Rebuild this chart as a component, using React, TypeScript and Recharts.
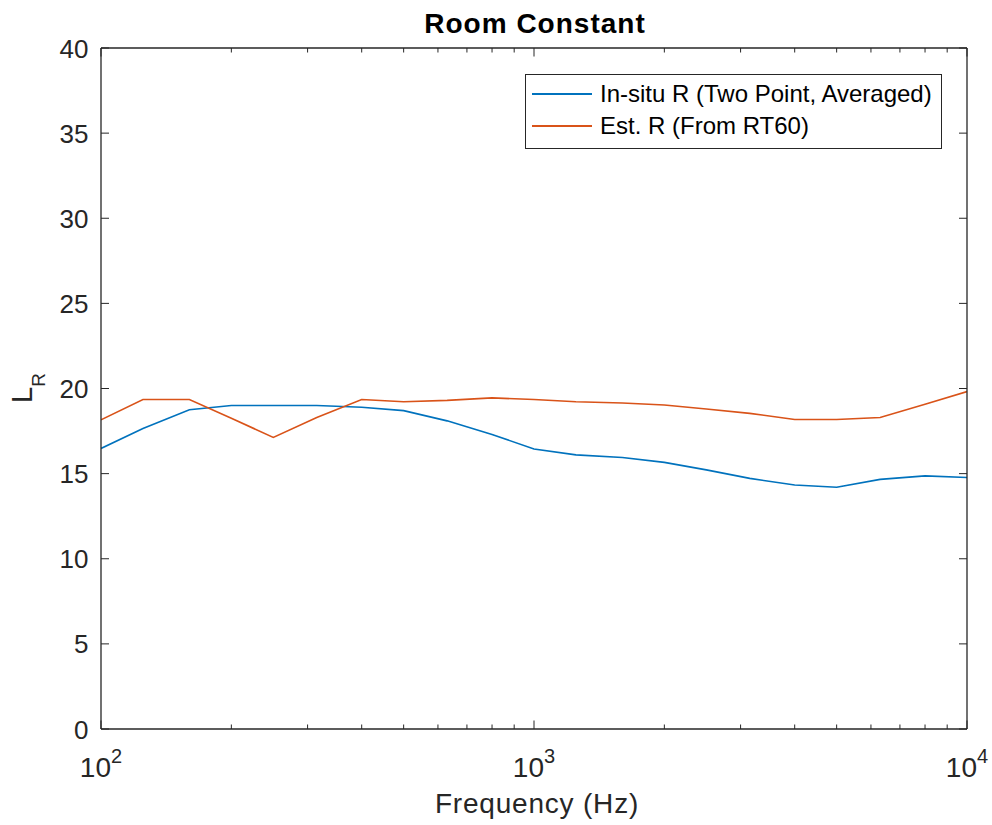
import React from 'react';
import { LineChart, Line, XAxis, YAxis, Legend } from 'recharts';

const frequencies = [100, 125, 160, 200, 250, 315, 400, 500, 630, 800, 1000, 1250, 1600, 2000, 2500, 3150, 4000, 5000, 6300, 8000, 10000];
const inSituR = [16.48, 17.65, 18.75, 19.0, 19.0, 19.0, 18.9, 18.7, 18.1, 17.3, 16.45, 16.1, 15.95, 15.66, 15.22, 14.72, 14.33, 14.2, 14.66, 14.87, 14.77];
const estR = [18.16, 19.35, 19.35, 18.25, 17.13, 18.3, 19.35, 19.22, 19.3, 19.45, 19.35, 19.22, 19.15, 19.03, 18.8, 18.54, 18.18, 18.18, 18.3, 19.08, 19.82];
const xTicks = [100, 200, 300, 400, 500, 600, 700, 800, 900, 1000, 2000, 3000, 4000, 5000, 6000, 7000, 8000, 9000, 10000];
const xMajorTicks = [100, 1000, 10000];
const yTicks = [0, 5, 10, 15, 20, 25, 30, 35, 40];
const seriesNames = ['In-situ R (Two Point, Averaged)', 'Est. R (From RT60)'];
const seriesColors = ['#0072BD', '#D95319'];
const titleText = 'Room Constant';
const xLabelText = 'Frequency (Hz)';

const data = frequencies.map((f, i) => ({ f, insitu: inSituR[i], est: estR[i] }));

const FONT = '"Liberation Sans", Arial, Helvetica, sans-serif';
const AX = '#262626';

const BottomTick = (props: any) => {
  const { x, y, payload } = props;
  const v = payload.value;
  const major = xMajorTicks.includes(v);
  return (
    <g>
      <line x1={x} y1={y} x2={x} y2={y - (major ? 8.5 : 4.5)} stroke={AX} strokeWidth={1} />
      {major && (
        <text x={x} y={y + 47.7} textAnchor="middle" fill={AX} fontSize={28} fontFamily={FONT}>
          <tspan>10</tspan>
          <tspan dy={-14} fontSize={20}>{Math.round(Math.log10(v))}</tspan>
        </text>
      )}
    </g>
  );
};

const TopTick = (props: any) => {
  const { x, y, payload } = props;
  const major = xMajorTicks.includes(payload.value);
  return <line x1={x} y1={y} x2={x} y2={y + (major ? 8.5 : 4.5)} stroke={AX} strokeWidth={1} />;
};

const LeftTick = (props: any) => {
  const { x, y, payload } = props;
  return (
    <g>
      <line x1={x} y1={y} x2={x + 8} y2={y} stroke={AX} strokeWidth={1} />
      <text x={x - 12.5} y={y + 9.5} textAnchor="end" fill={AX} fontSize={26} fontFamily={FONT}>
        {payload.value}
      </text>
    </g>
  );
};

const RightTick = (props: any) => {
  const { x, y } = props;
  return <line x1={x} y1={y} x2={x - 8} y2={y} stroke={AX} strokeWidth={1} />;
};

const TitleLabel = () => (
  <text x={535} y={33} textAnchor="middle" fill="#000" fontSize={28} fontWeight="bold" fontFamily={FONT} letterSpacing={1}>
    {titleText}
  </text>
);

const XLabel = () => (
  <text x={537} y={813} textAnchor="middle" fill={AX} fontSize={28} fontFamily={FONT} letterSpacing={0.8}>
    {xLabelText}
  </text>
);

const YLabel = () => (
  <text transform="translate(32,388) rotate(-90)" textAnchor="middle" fill={AX} fontSize={29} fontFamily={FONT}>
    <tspan>L</tspan>
    <tspan dy={13} fontSize={19}>R</tspan>
  </text>
);

const LegendBox = (props: any) => {
  const payload = [...(props.payload || [])].sort(
    (a: any, b: any) => seriesNames.indexOf(a.value) - seriesNames.indexOf(b.value)
  );
  return (
    <div
      style={{
        position: 'relative',
        boxSizing: 'border-box',
        width: 417,
        height: 75,
        border: `1.3px solid ${AX}`,
        background: '#fff',
        fontFamily: FONT,
        fontSize: 24,
        color: '#000',
      }}
    >
      {payload.map((p: any, i: number) => (
        <div key={i} style={{ position: 'absolute', left: 0, top: 20 - 16 + i * 32 - 1, height: 32, width: 415 }}>
          <div style={{ position: 'absolute', left: 6, top: 15, width: 60, height: 1.6, background: p.color }} />
          <div style={{ position: 'absolute', left: 74, top: 0, lineHeight: '32px', whiteSpace: 'nowrap' }}>{p.value}</div>
        </div>
      ))}
    </div>
  );
};

export default function App() {
  return (
    <div style={{ position: 'absolute', left: 0, top: 0, width: 992, height: 825, background: '#fff' }}>
      <LineChart width={992} height={825} data={data} margin={{ top: 47, right: 24, bottom: 0, left: 0 }}>
        <XAxis
          xAxisId="bottom"
          dataKey="f"
          type="number"
          scale="log"
          domain={[100, 10000]}
          allowDataOverflow
          ticks={xTicks}
          interval={0}
          tickSize={0}
          tickMargin={0}
          tickLine={false}
          tick={<BottomTick />}
          axisLine={{ stroke: AX, strokeWidth: 1.3 }}
          height={96}
          label={<XLabel />}
        />
        <XAxis
          xAxisId="top"
          orientation="top"
          dataKey="f"
          type="number"
          scale="log"
          domain={[100, 10000]}
          allowDataOverflow
          ticks={xTicks}
          interval={0}
          tickSize={0}
          tickMargin={0}
          tickLine={false}
          tick={<TopTick />}
          axisLine={{ stroke: AX, strokeWidth: 1.3 }}
          height={1}
          label={<TitleLabel />}
        />
        <YAxis
          yAxisId="left"
          type="number"
          domain={[0, 40]}
          allowDataOverflow
          ticks={yTicks}
          interval={0}
          tickSize={0}
          tickMargin={0}
          tickLine={false}
          tick={<LeftTick />}
          axisLine={{ stroke: AX, strokeWidth: 1.3 }}
          width={101}
          label={<YLabel />}
        />
        <YAxis
          yAxisId="right"
          orientation="right"
          type="number"
          domain={[0, 40]}
          allowDataOverflow
          ticks={yTicks}
          interval={0}
          tickSize={0}
          tickMargin={0}
          tickLine={false}
          tick={<RightTick />}
          axisLine={{ stroke: AX, strokeWidth: 1.3 }}
          width={1}
        />
        <Line
          xAxisId="bottom"
          yAxisId="left"
          type="linear"
          dataKey="insitu"
          name={seriesNames[0]}
          stroke={seriesColors[0]}
          strokeWidth={1.6}
          dot={false}
          activeDot={false}
          isAnimationActive={false}
        />
        <Line
          xAxisId="bottom"
          yAxisId="left"
          type="linear"
          dataKey="est"
          name={seriesNames[1]}
          stroke={seriesColors[1]}
          strokeWidth={1.6}
          dot={false}
          activeDot={false}
          isAnimationActive={false}
        />
        <Legend
          layout="vertical"
          align="center"
          verticalAlign="middle"
          content={<LegendBox />}
          wrapperStyle={{ position: 'absolute', left: 525, top: 74, width: 417, height: 75, margin: 0, padding: 0 }}
        />
      </LineChart>
    </div>
  );
}
